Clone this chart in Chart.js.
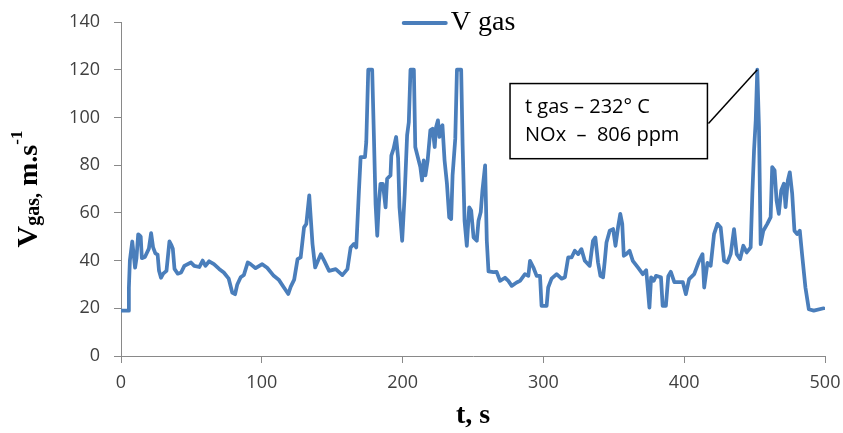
<!DOCTYPE html>
<html>
<head>
<meta charset="utf-8">
<script src="https://cdn.jsdelivr.net/npm/chart.js@4.4.1/dist/chart.umd.min.js"></script>
<style>
html,body{margin:0;padding:0;background:#fff;}
#wrap{width:843px;height:433px;position:relative;}
</style>
</head>
<body>
<div id="wrap"><canvas id="c" width="843" height="433"></canvas></div>
<script>
// ---- data ----
const times = [
  0, 5, 5.6, 6.3, 8, 10, 11, 12.2, 13.3, 14, 14.8, 17, 19.8, 21.4, 22.8, 24.4, 26, 27, 28.4, 30,
  32.3, 34.4, 35.6, 36.8, 38, 40.3, 42.7, 45, 49.7, 52, 55.6, 58, 60, 62.6, 66, 69.7, 73, 76.5, 79, 81,
  82.6, 85, 87.3, 90, 92, 95.6, 100.3, 103.8, 108.5, 112, 115.7, 118.8, 120.5, 123, 125.4, 127.6, 130, 131.6, 133.7, 134.4,
  136, 137.9, 141.9, 144.3, 147.8, 152.5, 157.2, 160.8, 163.1, 165.5, 167.1, 169, 170.2, 173.3, 174.2, 175.6, 178.4, 179.6, 180.8, 182,
  183.2, 184.3, 186, 187.9, 189, 191.4, 192, 193.6, 195.4, 196.8, 197.8, 199.7, 201.5, 203.2, 204.4, 205.6, 208, 209, 210.2, 212.6,
  213.8, 215, 216.2, 217.8, 219.7, 221.3, 222.8, 223.8, 225.1, 226.2, 227.4, 228.3, 229.8, 231.5, 233.1, 234.5, 235.5, 237.4, 238.6, 241.6,
  242.6, 244, 245.6, 247.3, 248.7, 250.4, 252.7, 253.9, 255.5, 256.7, 258.6, 259.8, 261, 264.5, 266.8, 269.2, 272.7, 275.1, 277.5, 281,
  283.4, 286.9, 289.3, 290.5, 292.9, 295.2, 297.6, 298.7, 302.3, 303.4, 305.8, 309.4, 312.9, 315.3, 317.6, 320, 322.3, 324.7, 327, 329.4,
  332.9, 335.2, 336.9, 338.8, 340.5, 342.4, 343.6, 344.8, 347.1, 349.5, 351.2, 353, 354.6, 356, 357.1, 358.8, 361.2, 363.5, 367.1, 370.6,
  373, 374.1, 375.3, 376.5, 378.4, 380, 383.5, 384.7, 387, 388.7, 390.5, 393, 396.6, 399, 401.2, 403.5, 407.1, 410.6, 413, 414.2,
  416.5, 418.8, 421.2, 423.6, 425.9, 428.3, 430.7, 433, 435.4, 437.3, 439.7, 442, 444.4, 447.2, 448.4, 449.6, 450.8, 451.9, 453.1, 454.3,
  456.2, 459, 461.4, 462.5, 464.2, 465.6, 467.2, 468.9, 470.8, 472, 473.6, 475, 476.7, 478.3, 480.2, 482.1, 483.7, 486.1, 488.5, 492,
  499
];
const speeds = [
  19, 19, 28.6, 40, 48, 37, 41, 51, 50.5, 50, 41, 41.5, 45, 51.5, 45.5, 43, 42.5, 35.7, 32.8, 34.5,
  35.7, 48, 46.7, 45, 36.5, 34.5, 35, 37.8, 39.2, 37.8, 37.3, 40, 37.8, 39.7, 38.5, 36.5, 35, 32.4, 26.6, 25.9,
  30, 33, 34, 39.2, 38.5, 36.8, 38.5, 37, 33.6, 32, 28.7, 26, 29, 32, 40.6, 41.3, 53.9, 55.3, 67.3, 61,
  47, 37.1, 42.7, 40, 35.7, 36.4, 33.9, 36.4, 45.5, 47, 45.5, 69.4, 83.4, 83.4, 89.7, 120, 120, 92.5, 63.8, 50.4,
  64.5, 72.2, 72.2, 62.3, 74.3, 75.7, 84, 86.9, 91.8, 83, 62.3, 48.3, 68, 92.5, 98, 120, 120, 87.6, 84.8, 79.2,
  73.6, 82, 75.7, 82, 94.6, 95.3, 87.6, 96, 98.8, 91.8, 96, 96.7, 82, 72.2, 58.1, 57.4, 75.7, 91, 120, 120,
  89, 56.7, 46.2, 62.3, 61, 49.7, 48.3, 56.7, 60.3, 69.4, 79.9, 48.3, 35.5, 35.2, 35.3, 31.5, 32.8, 31.5, 29.4, 30.8,
  31.5, 34.3, 33.6, 39.9, 37.1, 33.6, 33.6, 21, 21, 28.7, 32.4, 34.3, 32.4, 33, 41.3, 41.3, 44.1, 42.7, 44.8, 39.9,
  37.8, 48.3, 49.7, 39.2, 33.6, 33, 39.9, 47.6, 52.5, 53.2, 46.2, 53.9, 59.6, 55.4, 42, 42.7, 44.1, 39.9, 37.1, 34.3,
  36, 28.7, 20.3, 33, 31.5, 33.6, 33, 21, 21, 33.5, 35.3, 31, 31, 31, 25.9, 32.2, 34.3, 39.9, 42.7, 28.7,
  39, 37.8, 51.1, 55.4, 53.9, 39.9, 39.2, 42.7, 53.2, 42.7, 40.6, 46.2, 43.4, 45.5, 68, 86.2, 98.8, 120, 96, 46.9,
  52.5, 55.4, 58.2, 79.2, 77.8, 65.2, 59.6, 69.4, 72.2, 62.4, 73.6, 77, 68, 52.5, 51.1, 52.5, 42.7, 28.7, 19.6, 19,
  20
];
const xTicks = [0, 100, 200, 300, 400, 500];
const yTicks = [0, 20, 40, 60, 80, 100, 120, 140];
const seriesLabel = 'V gas';
const xTitle = 't, s';
const yTitleParts = ['V', 'gas,', 'm.s', '-1'];
const calloutLines = ['t gas \u2013 232\u00b0 C', 'NOx  \u2013  806 ppm'];
const calloutTime = 451.9;

const LINE_COLOR = '#4a7ebb';
const AXIS_COLOR = '#898989';
const TICK_COLOR = '#404040';

const points = times.map((t, i) => ({x: t, y: speeds[i]}));

// custom legend (drawn above/overlapping top of plot like the reference)
const legendPlugin = {
  id: 'topLegend',
  afterDraw(chart) {
    const ctx = chart.ctx;
    const ca = chart.chartArea;
    const cx = (ca.left + ca.right) / 2 - 14;
    ctx.save();
    ctx.font = '28px "Liberation Serif", "Times New Roman", serif';
    const tw = ctx.measureText(seriesLabel).width;
    const sw = 43, gap = 5;
    const total = sw + gap + tw;
    const x0 = cx - total / 2;
    ctx.strokeStyle = LINE_COLOR;
    ctx.lineWidth = 4;
    ctx.lineCap = 'round';
    ctx.beginPath();
    ctx.moveTo(x0 + 1, ca.top + 1);
    ctx.lineTo(x0 + sw, ca.top + 1);
    ctx.stroke();
    ctx.fillStyle = '#000';
    ctx.textBaseline = 'alphabetic';
    ctx.textAlign = 'left';
    ctx.fillText(seriesLabel, x0 + sw + gap, ca.top + 8);
    ctx.restore();
  }
};

// rotated y-axis title with subscript and superscript
const yTitlePlugin = {
  id: 'yTitle',
  afterDraw(chart) {
    const ctx = chart.ctx;
    const ca = chart.chartArea;
    const fam = '"Liberation Serif", "Times New Roman", serif';
    const parts = [
      {t: yTitleParts[0], f: 'bold 30px ' + fam, dy: 0},
      {t: yTitleParts[1], f: 'bold 20px ' + fam, dy: 2},
      {t: ' ', f: 'bold 28px ' + fam, dy: 0},
      {t: yTitleParts[2], f: 'bold 28px ' + fam, dy: 0},
      {t: yTitleParts[3], f: 'bold 17px ' + fam, dy: -15}
    ];
    ctx.save();
    let total = 0;
    parts.forEach(p => { ctx.font = p.f; p.w = ctx.measureText(p.t).width; total += p.w; });
    ctx.translate(37, (ca.top + ca.bottom) / 2);
    ctx.rotate(-Math.PI / 2);
    ctx.fillStyle = '#000';
    ctx.textBaseline = 'alphabetic';
    ctx.textAlign = 'left';
    let x = -total / 2;
    parts.forEach(p => { ctx.font = p.f; ctx.fillText(p.t, x, p.dy); x += p.w; });
    ctx.restore();
  }
};

// callout box with leader line to the peak
const calloutPlugin = {
  id: 'callout',
  afterDatasetsDraw(chart) {
    const ctx = chart.ctx;
    const xs = chart.scales.x, ys = chart.scales.y;
    const idx = times.indexOf(calloutTime);
    const px = xs.getPixelForValue(times[idx]);
    const py = ys.getPixelForValue(speeds[idx]);
    const left = xs.getPixelForValue(276.3), right = xs.getPixelForValue(416.5);
    const top = ys.getPixelForValue(114.2), bottom = ys.getPixelForValue(82.7);
    ctx.save();
    ctx.fillStyle = '#fff';
    ctx.fillRect(left, top, right - left, bottom - top);
    ctx.strokeStyle = '#000';
    ctx.lineWidth = 1.5;
    ctx.strokeRect(left, top, right - left, bottom - top);
    ctx.beginPath();
    ctx.moveTo(right + 1, ys.getPixelForValue(97.5));
    ctx.lineTo(px, py);
    ctx.stroke();
    ctx.fillStyle = '#000';
    ctx.font = '20px "Open Sans", sans-serif';
    ctx.textBaseline = 'alphabetic';
    ctx.textAlign = 'left';
    ctx.fillText(calloutLines[0], left + 15, top + 29);
    ctx.fillText(calloutLines[1], left + 15, top + 57);
    ctx.restore();
  }
};

new Chart(document.getElementById('c'), {
  type: 'line',
  data: {
    datasets: [{
      label: seriesLabel,
      data: points,
      borderColor: LINE_COLOR,
      backgroundColor: LINE_COLOR,
      borderWidth: 3.75,
      pointRadius: 0,
      tension: 0,
      fill: false,
      borderJoinStyle: 'round',
      borderCapStyle: 'round'
    }]
  },
  options: {
    responsive: false,
    animation: false,
    devicePixelRatio: 1,
    layout: {padding: {top: 22, right: 18, left: 0, bottom: 0}},
    plugins: {
      legend: {display: false},
      tooltip: {enabled: false},
      title: {display: false}
    },
    scales: {
      x: {
        type: 'linear',
        min: xTicks[0],
        max: xTicks[xTicks.length - 1],
        afterBuildTicks: s => { s.ticks = xTicks.map(v => ({value: v})); },
        afterFit: s => { s.height = 77; s.paddingLeft = 0; s.paddingRight = 0; },
        grid: {display: true, drawOnChartArea: false, drawTicks: true, tickLength: 7, color: AXIS_COLOR},
        border: {display: true, color: AXIS_COLOR, width: 1},
        ticks: {color: TICK_COLOR, font: {family: '"Open Sans", sans-serif', size: 18}, padding: 9, maxRotation: 0},
        title: {
          display: true, text: xTitle, color: '#000',
          font: {family: '"Liberation Serif", "Times New Roman", serif', size: 28, weight: 'bold', lineHeight: 1.2},
          padding: {top: 0, bottom: 0}
        }
      },
      y: {
        type: 'linear',
        min: yTicks[0],
        max: yTicks[yTicks.length - 1],
        afterBuildTicks: s => { s.ticks = yTicks.map(v => ({value: v})); },
        afterFit: s => { s.width = 121; s.paddingTop = 0; s.paddingBottom = 0; },
        grid: {display: true, drawOnChartArea: false, drawTicks: true, tickLength: 7, color: AXIS_COLOR},
        border: {display: true, color: AXIS_COLOR, width: 1},
        ticks: {color: TICK_COLOR, font: {family: '"Open Sans", sans-serif', size: 18}, padding: 14}
      }
    }
  },
  plugins: [legendPlugin, yTitlePlugin, calloutPlugin]
});
</script>
</body>
</html>
